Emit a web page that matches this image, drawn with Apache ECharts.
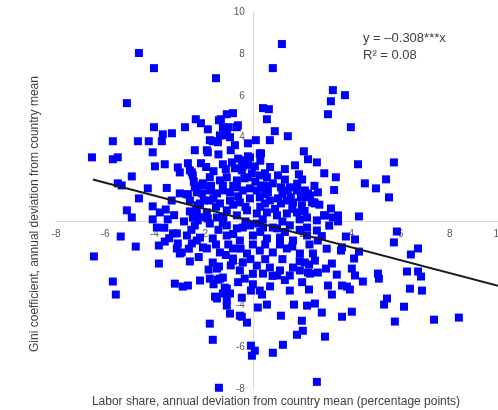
<!DOCTYPE html>
<html><head><meta charset="utf-8">
<script src="https://cdn.jsdelivr.net/npm/echarts@6/dist/echarts.min.js"></script>
<style>html,body{margin:0;padding:0;background:#fff}#c{width:498px;height:410px}</style>
</head><body><div id="c"></div>
<script>
// Labor share deviation (x) and Gini deviation (y)
const laborShare = [
-4.63,-4.02,-1.50,-5.12,1.18,0.81,3.25,3.74,3.17,3.05,0.41,0.65,0.57,3.98,0.89,0.12,0.69,1.42,0.33,2.07,
2.24,2.60,0.08,1.71,1.87,4.27,5.73,3.37,4.55,5.00,5.41,5.53,1.14,1.42,2.24,2.48,3.17,2.20,1.99,2.89,
3.25,3.46,4.31,5.85,5.73,6.71,6.42,6.26,6.71,6.83,6.38,6.87,5.45,5.33,6.14,5.77,7.36,8.37,3.78,4.15,
3.62,4.31,4.11,2.44,2.11,2.28,2.24,2.64,2.97,3.21,3.41,4.02,4.15,4.47,5.08,5.12,3.05,3.62,3.82,3.94,
3.21,2.28,2.20,2.52,2.80,4.02,3.62,1.99,2.03,2.93,-1.06,-0.93,-0.45,-0.24,0.20,0.57,1.67,1.14,1.79,-1.75,
-1.63,-0.08,0.08,-0.04,0.81,1.22,-1.38,2.60,-5.37,-4.76,-6.46,-5.69,-5.57,-3.82,-3.82,-3.58,-3.90,-3.17,-2.85,-2.64,
-2.15,-3.09,-3.09,-2.97,-2.56,-1.54,-4.02,-2.76,-5.69,-4.67,-4.23,-3.70,-3.66,-3.29,-6.54,-5.69,-5.49,-4.07,-2.36,-3.98,
-3.58,-3.05,-2.97,-2.64,-2.48,-4.92,-5.49,-5.33,-4.27,-4.63,-2.97,-2.64,-2.28,-5.12,-4.92,-4.07,-3.78,-3.54,-3.46,-4.07,
-2.56,-2.44,-2.24,-1.83,-2.24,-1.99,-2.32,-2.11,-1.83,-1.30,-1.06,-0.81,-0.98,-0.65,-1.38,-1.22,-1.75,-1.42,-1.22,-1.06,
-0.73,-0.20,-1.87,-0.20,0.28,-2.11,-1.22,-0.85,-0.73,-0.45,-0.41,-2.56,-2.44,-1.75,-2.03,-1.34,-1.06,-1.22,-0.65,-0.33,
-0.04,0.28,0.57,1.02,1.50,1.79,2.11,2.32,2.64,0.81,0.41,0.16,-0.12,-0.41,-0.65,-0.93,-1.22,-1.46,-1.75,-2.07,
-2.36,-2.56,-2.15,-1.75,-1.34,-0.93,-0.53,-0.12,0.28,0.69,1.02,1.38,1.63,2.40,-2.28,-1.87,-1.46,-1.06,-0.65,-0.24,
0.16,0.57,0.98,1.38,1.79,2.20,2.60,-2.36,-1.75,-1.06,-0.41,0.16,0.81,1.50,2.20,-1.22,-0.65,-0.12,0.41,0.98,
2.60,-2.15,-1.63,-1.06,-0.53,0.00,0.57,1.10,1.63,2.20,2.64,-1.87,-1.34,-0.81,-0.24,0.28,0.81,1.38,1.91,-0.81,
-0.41,0.16,0.69,1.10,1.63,2.52,0.41,0.98,1.50,1.91,2.32,-3.25,-3.05,-2.68,-2.48,-2.89,-2.28,-2.03,-1.63,-1.46,
-1.75,-0.81,-0.53,-0.33,-1.34,-1.14,-0.93,-1.46,-0.53,-0.45,-1.38,-1.42,-1.22,-1.06,-1.22,-1.06,-0.08,0.28,0.37,3.46,
2.93,2.52,3.58,-0.12,-0.20,0.49,1.54,1.95,0.33,0.61,0.49,1.14,-0.45,-0.93,-1.34,-1.63,-1.83,-2.07,-0.61
];
const giniCoef = [
8.04,7.32,6.84,5.65,8.47,7.32,6.27,6.03,5.74,5.12,5.41,5.36,4.88,4.50,4.31,3.88,3.88,4.07,3.25,3.35,
2.97,2.82,2.63,2.68,2.25,2.73,2.82,2.11,1.82,1.58,2.01,1.15,1.63,1.48,1.34,0.91,0.62,1.15,0.77,0.29,
0.19,0.00,0.24,-0.48,-1.00,-1.29,-1.58,-2.39,-2.39,-2.63,-3.21,-3.30,-3.68,-3.97,-4.07,-4.78,-4.69,-4.59,-0.72,-0.86,
-1.24,-1.44,-1.77,-1.53,-1.96,-2.06,-2.44,-2.44,-2.25,-2.01,-2.54,-2.25,-2.58,-2.87,-2.49,-2.73,-3.06,-3.06,-3.11,-3.25,
-3.49,-3.25,-4.02,-3.92,-4.35,-4.31,-4.55,-4.74,-5.22,-5.50,-4.02,-4.40,-4.55,-4.83,-4.11,-3.97,-3.97,-4.50,-5.41,-4.88,
-5.65,-5.93,-6.17,-6.41,-6.27,-5.89,-7.94,-7.66,-0.72,-1.20,-1.67,-2.87,-3.49,-2.01,-1.15,-0.96,-0.29,-2.97,-3.11,-3.06,
-2.82,-0.57,-1.29,-1.53,-1.91,-3.59,4.50,4.50,3.83,3.83,3.83,3.83,4.16,4.21,3.06,2.97,3.06,3.30,3.40,2.63,
2.73,2.58,2.34,2.78,2.34,2.15,1.82,1.72,1.58,1.10,1.34,1.29,1.39,0.53,0.19,0.72,0.43,0.57,0.10,0.10,
0.48,0.19,0.05,0.14,0.77,1.00,4.88,4.69,4.40,4.88,5.12,5.17,4.50,4.50,4.83,4.50,3.88,3.78,4.11,4.26,
3.64,3.73,3.40,3.11,3.25,2.78,2.73,2.82,2.54,2.44,2.63,2.44,2.20,2.11,1.82,1.96,2.11,1.72,1.96,2.06,
2.30,2.20,2.11,2.20,1.63,1.48,1.48,1.24,1.39,1.82,1.72,1.48,1.58,1.48,1.63,1.39,1.48,1.34,1.48,1.34,
1.63,1.00,0.86,1.00,0.86,1.00,0.91,1.10,1.15,1.00,1.10,1.00,0.91,0.91,0.38,0.43,0.19,0.53,0.29,0.53,
0.38,0.43,0.29,0.38,0.43,0.19,0.05,-0.19,-0.10,-0.19,-0.29,-0.10,-0.29,-0.19,-0.29,-0.10,-0.33,-0.19,-0.29,-0.33,
-0.43,-0.77,-0.81,-0.67,-0.91,-0.67,-0.81,-0.77,-0.91,-0.67,-0.91,-1.29,-1.48,-1.29,-1.53,-1.39,-1.48,-1.29,-1.53,-1.77,
-1.96,-2.11,-2.20,-2.34,-2.20,-1.87,-2.49,-2.58,-2.58,-2.34,-2.49,-0.57,-1.05,-0.67,-1.05,-1.48,-0.91,-1.24,-1.96,-2.25,
-2.73,-1.87,-2.34,-2.73,-2.73,-3.16,-3.44,-3.68,-4.50,-3.64,-2.15,-2.78,-2.68,-3.21,-3.44,-3.78,-3.30,-3.30,-3.49,0.29,
0.29,0.86,-1.39,3.06,2.11,2.30,1.15,1.15,1.63,1.39,0.86,0.86,2.92,4.02,4.11,3.83,3.30,1.72,4.59
];
// additional points in the dense central cluster
const laborShareCore = [
-1.9,-1.6,-1.1,-0.2,0.3,0.7,1.3,-0.6,-1.4,-0.9,
-2.0,-1.2,-0.3,0.4,1.2,1.9,-2.5,-1.4,-0.8,0.3,1.3,1.9,
-2.6,-1.5,-1.0,-0.5,0.0,0.5,1.1,1.6,2.3,
-2.2,-1.1,-0.1,0.5,1.2,1.9,
-1.8,-0.9,0.0,0.8,1.3,2.0,
-0.6,0.0,0.7,1.5,-1.6,
-2.3,-1.5,-0.8,-0.3,0.3,0.9,1.6,2.1,
-2.7,-1.6,-0.6,0.5,1.2,1.8,2.5,
-2.4,-1.7,-0.8,0.1,0.6,1.3,2.0,
-3.3,-3.5,-3.2,-3.6,-3.4,-2.8,3.0,2.8,3.1,2.7,3.3,2.9
];
const giniCore = [
2.6,2.4,2.5,2.7,2.9,2.6,2.5,3.0,3.2,3.4,
0.2,0.2,0.0,0.1,0.0,0.1,-0.4,-0.4,-0.6,-0.5,-0.5,-0.4,
-1.3,-1.1,-1.1,-1.3,-1.1,-1.1,-1.1,-1.2,-1.1,
-1.7,-1.6,-1.8,-1.8,-1.8,-1.9,
-2.3,-2.1,-2.5,-2.6,-2.8,-2.9,
-2.9,-3.0,-3.1,-3.3,-3.0,
0.6,0.7,0.8,0.7,0.7,0.6,0.6,0.5,
1.3,1.1,1.2,1.3,1.3,1.8,1.7,
1.9,1.7,1.7,1.9,1.7,2.0,2.0,
1.0,1.6,0.3,-0.3,-0.8,0.0,-1.3,-0.7,-0.2,0.8,1.5,2.3
];
const xTicks = [-8,-6,-4,-2,0,2,4,6,8,10];
const yTicks = [-8,-6,-4,-2,0,2,4,6,8,10];
const slope = -0.308;
const fitRange = [-6.5, 10];
const eqText = 'y = \u20130.308***x';
const r2Text = 'R\u00B2 = 0.08';
const xTitle = 'Labor share, annual deviation from country mean (percentage points)';
const yTitle = 'Gini coefficient, annual deviation from country mean';

const allX = laborShare.concat(laborShareCore);
const allY = giniCoef.concat(giniCore);
const points = allX.map((x, i) => [x, allY[i]]);
const fitLine = fitRange.map(x => [x, slope * x]);

const W = 498, H = 410;
const G = {left: 56, right: -1, top: 12, bottom: 21};
const xMin = xTicks[0], xMax = xTicks[xTicks.length - 1];
const yMin = yTicks[0], yMax = yTicks[yTicks.length - 1];
const gw = W - G.left - G.right, gh = H - G.top - G.bottom;
// shift axes so they cross at the origin
const xAxisOffset = -gh * (0 - yMin) / (yMax - yMin);
const yAxisOffset = -gw * (0 - xMin) / (xMax - xMin);

const chart = echarts.init(document.getElementById('c'), null, {renderer: 'canvas'});
const fontFam = '"Liberation Sans", Arial, sans-serif';
function axis(extra) {
  return Object.assign({
    type: 'value', interval: 2,
    axisLine: {onZero: false, lineStyle: {color: '#d9d9d9', width: 1}},
    axisTick: {show: false},
    splitLine: {show: false},
    axisLabel: {color: '#595959', fontSize: 10, fontFamily: fontFam,
      formatter: v => (v === 0 ? '' : String(v))}
  }, extra);
}
chart.setOption({
  animation: false,
  grid: Object.assign({outerBoundsMode: 'none', containLabel: false}, G),
  xAxis: axis({min: xMin, max: xMax, position: 'bottom', offset: xAxisOffset}),
  yAxis: axis({min: yMin, max: yMax, position: 'left', offset: yAxisOffset}),
  series: [
    {type: 'scatter', data: points, symbol: 'rect', symbolSize: 8,
     itemStyle: {color: '#0000ff', opacity: 1}, z: 2},
    {type: 'line', data: fitLine, symbol: 'none', lineStyle: {color: '#1a1a1a', width: 2}, z: 3}
  ],
  graphic: [
    {type: 'text', left: 363, top: 32, style: {text: eqText, fill: '#404040', fontSize: 13, fontFamily: fontFam}},
    {type: 'text', left: 363, top: 49, style: {text: r2Text, fill: '#404040', fontSize: 13, fontFamily: fontFam}},
    {type: 'text', x: 276, y: 402, style: {text: xTitle, fill: '#404040', fontSize: 12, fontFamily: fontFam, align: 'center', verticalAlign: 'middle'}},
    {type: 'text', x: 35, y: 214, rotation: Math.PI / 2, style: {text: yTitle, fill: '#404040', fontSize: 12, fontFamily: fontFam, align: 'center', verticalAlign: 'middle'}}
  ]
});
</script></body></html>
